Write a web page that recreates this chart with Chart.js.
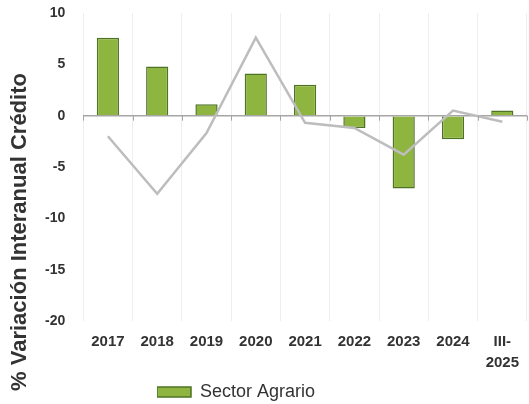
<!DOCTYPE html>
<html>
<head>
<meta charset="utf-8">
<script src="https://cdn.jsdelivr.net/npm/chart.js@4/dist/chart.umd.min.js"></script>
<style>
  html, body { margin: 0; padding: 0; background: #fff; }
  #wrap { width: 529px; height: 404px; }
</style>
</head>
<body>
<div id="wrap"><canvas id="chart"></canvas></div>
<script>
// categorías y series
const labels = ['2017', '2018', '2019', '2020', '2021', '2022', '2023', '2024', ['III-', '2025']];
const sectorAgrario = [7.6, 4.8, 1.1, 4.1, 3.0, -1.2, -7.1, -2.3, 0.5];
const totalCredito = [-2.0, -7.6, -1.7, 7.6, -0.7, -1.2, -3.8, 0.5, -0.6];
const yMin = -20;
const yMax = 10;
const yStep = 5;
const yTitle = '% Variación Interanual Crédito';

// marcas pequeñas bajo la línea del cero, como en Excel
const zeroTicks = {
  id: 'zeroTicks',
  afterDatasetsDraw(chart) {
    const x = chart.scales.x, y = chart.scales.y, ctx = chart.ctx;
    const y0 = y.getPixelForValue(0);
    ctx.save();
    ctx.strokeStyle = '#a6a6a6';
    ctx.lineWidth = 1;
    for (let i = 0; i <= labels.length; i++) {
      const px = Math.round(x.getPixelForValue(i - 0.5)) + 0.5;
      ctx.beginPath();
      ctx.moveTo(px, y0);
      ctx.lineTo(px, y0 + 5);
      ctx.stroke();
    }
    ctx.restore();
  }
};

// título del eje y, desplazado hacia abajo como en el original
const yAxisTitle = {
  id: 'yAxisTitle',
  afterDraw(chart) {
    const ctx = chart.ctx;
    ctx.save();
    ctx.translate(20, 232);
    ctx.rotate(-Math.PI / 2);
    ctx.fillStyle = '#333';
    ctx.font = 'bold 22px "Liberation Sans", Arial';
    ctx.textAlign = 'center';
    ctx.textBaseline = 'middle';
    ctx.fillText(yTitle, 0, 0);
    ctx.restore();
  }
};

// mover la leyenda un poco a la izquierda
const moveLegend = {
  id: 'moveLegend',
  afterLayout(chart) {
    chart.legend.left = 157;
  }
};

new Chart(document.getElementById('chart'), {
  data: {
    labels: labels,
    datasets: [
      {
        type: 'line',
        label: 'Total',
        data: totalCredito,
        borderColor: '#bdbdbd',
        borderWidth: 2.5,
        pointRadius: 0,
        tension: 0,
        order: 0
      },
      {
        type: 'bar',
        label: 'Sector Agrario',
        data: sectorAgrario,
        backgroundColor: '#8db53f',
        borderColor: '#4f7325',
        borderWidth: 1.5,
        barPercentage: 0.45,
        categoryPercentage: 1,
        order: 1
      }
    ]
  },
  options: {
    responsive: true,
    maintainAspectRatio: false,
    animation: false,
    layout: { autoPadding: false, padding: { top: 13, right: 0, left: 27, bottom: -7 } },
    plugins: {
      tooltip: { enabled: false },
      legend: {
        position: 'bottom',
        align: 'start',
        labels: {
          filter: item => item.text === 'Sector Agrario',
          boxWidth: 34,
          boxHeight: 10,
          padding: 0,
          color: '#333',
          font: { family: 'Liberation Sans, Arial', size: 18 }
        }
      }
    },
    scales: {
      x: {
        grid: { color: '#eeeeee', drawTicks: false },
        border: { display: false },
        ticks: {
          color: '#333',
          padding: 10,
          maxRotation: 0,
          font: { family: 'Liberation Sans, Arial', size: 15, weight: 'bold', lineHeight: 1.4 }
        }
      },
      y: {
        min: yMin,
        max: yMax,
        afterFit: s => { s.paddingTop = 0; },
        grid: {
          drawTicks: false,
          color: c => c.tick.value === 0 ? '#a6a6a6' : 'rgba(0,0,0,0)',
          lineWidth: c => c.tick.value === 0 ? 1.5 : 0
        },
        border: { display: false },
        ticks: {
          stepSize: yStep,
          color: '#333',
          padding: 18,
          font: { family: 'Liberation Sans, Arial', size: 14, weight: 'bold' }
        }
      }
    }
  },
  plugins: [zeroTicks, yAxisTitle, moveLegend]
});
</script>
</body>
</html>
